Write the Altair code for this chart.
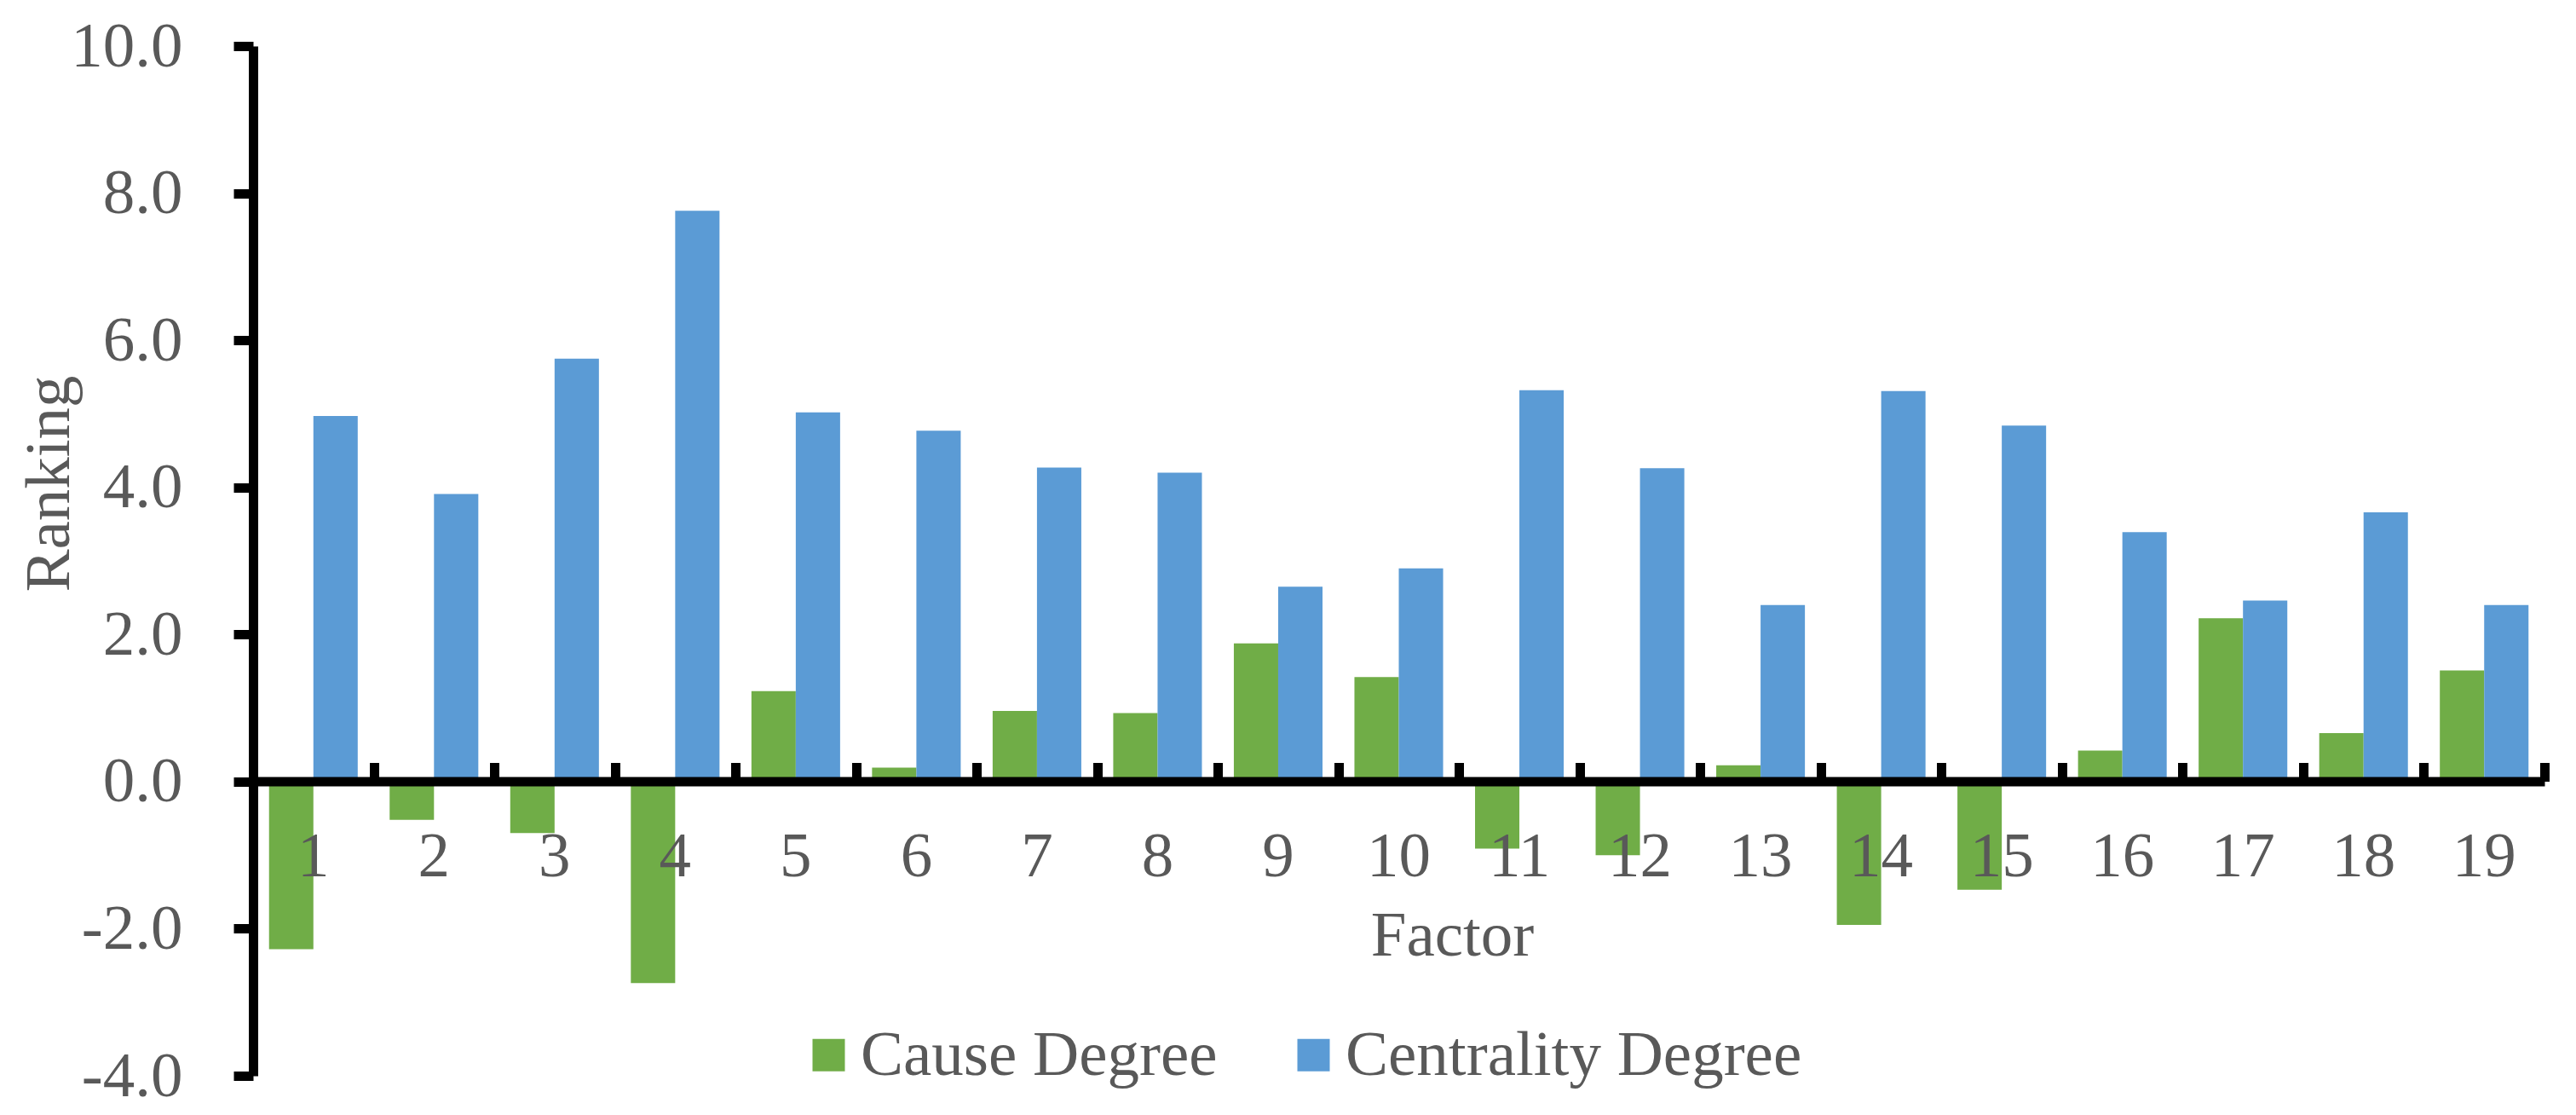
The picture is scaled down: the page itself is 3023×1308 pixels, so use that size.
import altair as alt
import pandas as pd

factors = [str(i) for i in range(1, 20)]
cause_degree = [-2.28, -0.52, -0.70, -2.74, 1.23, 0.19, 0.96, 0.93, 1.88, 1.42,
                -0.91, -1.00, 0.22, -1.95, -1.47, 0.42, 2.22, 0.66, 1.51]
centrality_degree = [4.97, 3.91, 5.75, 7.76, 5.02, 4.77, 4.27, 4.20, 2.65, 2.90,
                     5.32, 4.26, 2.40, 5.31, 4.84, 3.39, 2.46, 3.66, 2.40]
series = ["Cause Degree", "Centrality Degree"]
colors = ["#70AD47", "#5B9BD5"]
y_ticks = [-4, -2, 0, 2, 4, 6, 8, 10]

rows = []
for f, c, k in zip(factors, cause_degree, centrality_degree):
    rows.append({"Factor": f, "Series": series[0], "Value": c})
    rows.append({"Factor": f, "Series": series[1], "Value": k})
df = pd.DataFrame(rows)

W, H = 2689, 1208
FONT = "Liberation Serif"
GREY = "#595959"
FS = 75

xscale = alt.Scale(domain=factors, paddingInner=0, paddingOuter=0)
yscale = alt.Scale(domain=[-4, 10], nice=False, zero=False)

bars = alt.Chart(df).mark_bar().encode(
    x=alt.X(
        "Factor:N", sort=factors, scale=xscale,
        axis=alt.Axis(
            orient="bottom", offset=-345.5, domain=False, ticks=False,
            labelAngle=0, labelFont=FONT, labelFontSize=FS, labelColor=GREY,
            labelBaseline="alphabetic", labelPadding=111, zindex=3,
            title="Factor", titleFont=FONT, titleFontSize=FS, titleFontWeight="normal",
            titleColor=GREY, titleBaseline="alphabetic", titleX=1407, titleY=204,
            titleAlign="center",
        ),
    ),
    xOffset=alt.XOffset("Series:N", sort=series,
                        scale=alt.Scale(paddingInner=0, paddingOuter=0.36)),
    y=alt.Y(
        "Value:Q", scale=yscale,
        axis=alt.Axis(
            values=y_ticks, grid=False,
            labelExpr="(datum.value < 0 ? '-' : '') + format(abs(datum.value), '.1f')",
            domain=True, domainColor="black", domainWidth=11,
            ticks=True, tickColor="black", tickWidth=11, tickSize=23,
            labelFont=FONT, labelFontSize=FS, labelColor=GREY, labelPadding=60,
            title="Ranking", titleFont=FONT, titleFontSize=FS, titleFontWeight="normal",
            titleColor=GREY, titleAngle=270, titleX=-217, titleY=513,
            titleAlign="center", titleBaseline="alphabetic", zindex=1,
        ),
    ),
    color=alt.Color(
        "Series:N", sort=series,
        scale=alt.Scale(domain=series, range=colors),
        legend=alt.Legend(
            orient="none", legendX=638, legendY=1146, direction="horizontal",
            title=None, symbolType="square", symbolSize=1444, symbolStrokeWidth=0,
            symbolOpacity=1, labelFont=FONT, labelFontSize=FS, labelColor=GREY,
            labelOffset=0, columnPadding=75, padding=0, labelLimit=0,
        ),
    ),
)

zero_axis = alt.Chart(df).mark_bar(opacity=0).encode(
    x=alt.X(
        "Factor:N", sort=factors, scale=xscale,
        axis=alt.Axis(
            orient="top", offset=-862.5, labels=False, title=None,
            domain=True, domainColor="black", domainWidth=11,
            ticks=True, tickColor="black", tickWidth=11, tickSize=22,
            tickBand="extent", zindex=2,
        ),
    ),
)

chart = alt.layer(bars, zero_axis).resolve_axis(x="independent").properties(
    width=W, height=H,
    padding={"left": 297, "top": 54, "right": 37, "bottom": 46},
    autosize=alt.AutoSizeParams(type="none"),
    background="white",
).configure_view(strokeWidth=0)

chart.save("out.html", embed_options={"renderer": "svg", "actions": False})
